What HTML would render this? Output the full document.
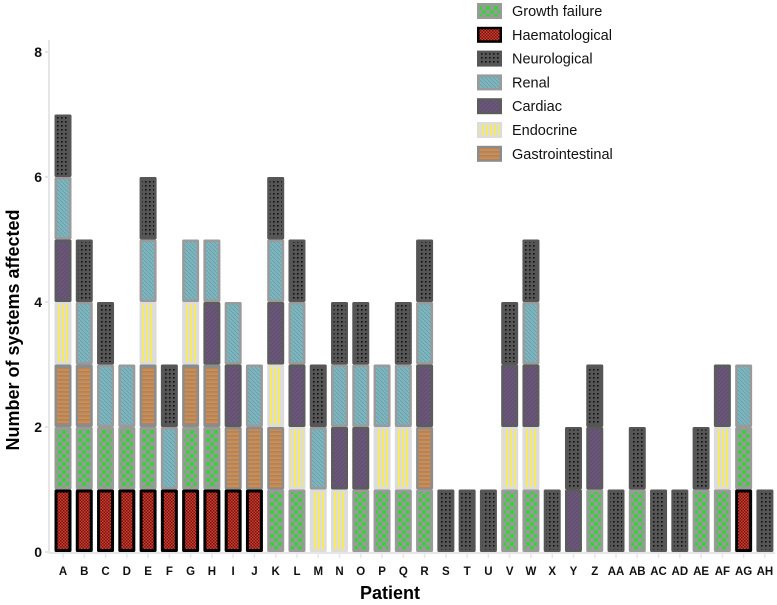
<!DOCTYPE html>
<html><head><meta charset="utf-8"><style>
body{margin:0;background:#fff}
svg{display:block;font-family:"Liberation Sans",Arial,sans-serif}
</style></head><body>
<svg id="chart" width="777" height="605" viewBox="0 0 777 605">
<defs>
<pattern id="p-growth" width="8" height="8" patternUnits="userSpaceOnUse"><rect width="8" height="8" fill="#9a9a9a"/><circle cx="0" cy="0" r="2.2" fill="#3ccf3c"/><circle cx="8" cy="0" r="2.2" fill="#3ccf3c"/><circle cx="0" cy="8" r="2.2" fill="#3ccf3c"/><circle cx="8" cy="8" r="2.2" fill="#3ccf3c"/><circle cx="4" cy="4" r="2.2" fill="#3ccf3c"/></pattern>
<pattern id="p-haem" width="3" height="3" patternUnits="userSpaceOnUse"><rect width="3" height="3" fill="#d83a2e"/><rect width="1.5" height="1.5" fill="#6a1812"/><rect x="1.5" y="1.5" width="1.5" height="1.5" fill="#6a1812"/></pattern>
<pattern id="p-neuro" width="4" height="4" patternUnits="userSpaceOnUse"><rect width="4" height="4" fill="#565656"/><rect x="1" y="1" width="1.6" height="1.6" fill="#111"/></pattern>
<pattern id="p-renal" width="4" height="4" patternUnits="userSpaceOnUse"><rect width="4" height="4" fill="#7eb6c0"/><path d="M0 0L4 4" stroke="#6a9ea8" stroke-width="0.8"/></pattern>
<pattern id="p-cardiac" width="4" height="4" patternUnits="userSpaceOnUse"><rect width="4" height="4" fill="#6a5678"/><path d="M0 4L4 0" stroke="#5e4c6c" stroke-width="0.8"/></pattern>
<pattern id="p-endo" x="1" width="4" height="5" patternUnits="userSpaceOnUse"><rect width="4" height="5" fill="#dcdcdc"/><rect x="1" width="2" height="5" fill="#f7ea5e"/></pattern>
<pattern id="p-gi" width="4" height="4" patternUnits="userSpaceOnUse"><rect width="4" height="4" fill="#8c8c8c"/><rect y="0.8" width="4" height="2.2" fill="#e8862e"/></pattern>
</defs>
<g id="axes"></g>
<g id="bars"></g>
<g id="legend"></g>
</svg>
<script>
const patients=["A","B","C","D","E","F","G","H","I","J","K","L","M","N","O","P","Q","R","S","T","U","V","W","X","Y","Z","AA","AB","AC","AD","AE","AF","AG","AH"];
// stack order bottom -> top
const haem    =[1,1,1,1,1,1,1,1,1,1,0,0,0,0,0,0,0,0,0,0,0,0,0,0,0,0,0,0,0,0,0,0,1,0];
const growth  =[1,1,1,1,1,0,1,1,0,0,1,1,0,0,1,1,1,1,0,0,0,1,1,0,0,1,0,1,0,0,1,1,1,0];
const gi      =[1,1,0,0,1,0,1,1,1,1,1,0,0,0,0,0,0,1,0,0,0,0,0,0,0,0,0,0,0,0,0,0,0,0];
const endo    =[1,0,0,0,1,0,1,0,0,0,1,1,1,1,0,1,1,0,0,0,0,1,1,0,0,0,0,0,0,0,0,1,0,0];
const cardiac =[1,0,0,0,0,0,0,1,1,0,1,1,0,1,1,0,0,1,0,0,0,1,1,0,1,1,0,0,0,0,0,1,0,0];
const renal   =[1,1,1,1,1,1,1,1,1,1,1,1,1,1,1,1,1,1,0,0,0,0,1,0,0,0,0,0,0,0,0,0,1,0];
const neuro   =[1,1,1,0,1,1,0,0,0,0,1,1,1,1,1,0,1,1,1,1,1,1,1,1,1,1,1,1,1,1,1,0,0,1];
const yTicks=[0,2,4,6,8];
const legendNames=["Growth failure","Haematological","Neurological","Renal","Cardiac","Endocrine","Gastrointestinal"];

const NS="http://www.w3.org/2000/svg";
function mk(t,a,p){const e=document.createElementNS(NS,t);for(const k in a)e.setAttribute(k,a[k]);p.appendChild(e);return e;}
const y0=552,yUnit=62.5;
const yScale=v=>y0-v*yUnit;
const x0=63,step=21.27;
const xScale=i=>x0+i*step;
const bw=17;
const axes=document.getElementById('axes'),bars=document.getElementById('bars'),legend=document.getElementById('legend');

const styles={
 haem:{border:"#000",fill:"url(#p-haem)"},
 growth:{border:"#9a9a9a",fill:"url(#p-growth)"},
 gi:{border:"#8c8c8c",fill:"url(#p-gi)"},
 endo:{border:"#dcdcdc",fill:"url(#p-endo)"},
 cardiac:{border:"#5c5c5c",fill:"url(#p-cardiac)"},
 renal:{border:"#9a9a9a",fill:"url(#p-renal)"},
 neuro:{border:"#565656",fill:"url(#p-neuro)"}
};
const series=[["haem",haem],["growth",growth],["gi",gi],["endo",endo],["cardiac",cardiac],["renal",renal],["neuro",neuro]];

// axes
let al=mk('line',{x1:49,y1:40,x2:49,y2:553,stroke:"#e6e6e6","stroke-width":2},axes);


let bl=mk('line',{x1:49,y1:553,x2:775,y2:553,stroke:"#e6e6e6","stroke-width":2},axes);


yTicks.forEach(v=>{
 const t=mk('text',{x:42,y:yScale(v)+5,"text-anchor":"end","font-size":14,"font-weight":"bold",fill:"#111"},axes);
 t.textContent=v;
 
 
 mk('line',{x1:45,y1:yScale(v),x2:49,y2:yScale(v),stroke:"#e6e6e6","stroke-width":2},axes);
});
patients.forEach((p,i)=>{
 mk('line',{x1:xScale(i),y1:553,x2:xScale(i),y2:558,stroke:"#e6e6e6","stroke-width":1.5},axes);
 const t=mk('text',{x:xScale(i),y:575,"text-anchor":"middle","font-size":11.5,"font-weight":"bold",fill:"#111"},axes);
 t.textContent=p;
 
 
});
let yt=mk('text',{x:0,y:0,transform:"translate(19,330) rotate(-90)","text-anchor":"middle","font-size":18,"font-weight":"bold",fill:"#000"},axes);
yt.textContent="Number of systems affected";


let xt=mk('text',{x:390,y:599,"text-anchor":"middle","font-size":18,"font-weight":"bold",fill:"#000"},axes);
xt.textContent="Patient";



// bars
patients.forEach((p,i)=>{
 let cum=0;
 series.forEach(([key,arr])=>{
  const v=arr[i]; if(!v) return;
  const yt=yScale(cum+v), yb=yScale(cum);
  const s=styles[key];
  const g=mk('g',{},bars);
  
  
  const x=xScale(i)-bw/2;
  const bwid=key==="haem"?3:2.5;
  mk('rect',{x:x,y:yt,width:bw,height:yb-yt,fill:s.border,rx:1.5},g);
  mk('rect',{x:x+bwid,y:yt+bwid,width:bw-2*bwid,height:yb-yt-2*bwid,fill:s.fill},g);
  cum+=v;
 });
});

// legend
const legKeys=["growth","haem","neuro","renal","cardiac","endo","gi"];
legendNames.forEach((n,k)=>{
 const cy=11+k*23.8;
 const g=mk('g',{},legend);
 
 
 const s=styles[legKeys[k]];
 mk('rect',{x:477,y:cy-8,width:25,height:16,fill:s.border},g);
 mk('rect',{x:479.5,y:cy-5.5,width:20,height:11,fill:s.fill},g);
 const t=mk('text',{x:512,y:cy+5,"font-size":14.5,fill:"#111"},g);
 t.textContent=n;
});
</script>
</body></html>
